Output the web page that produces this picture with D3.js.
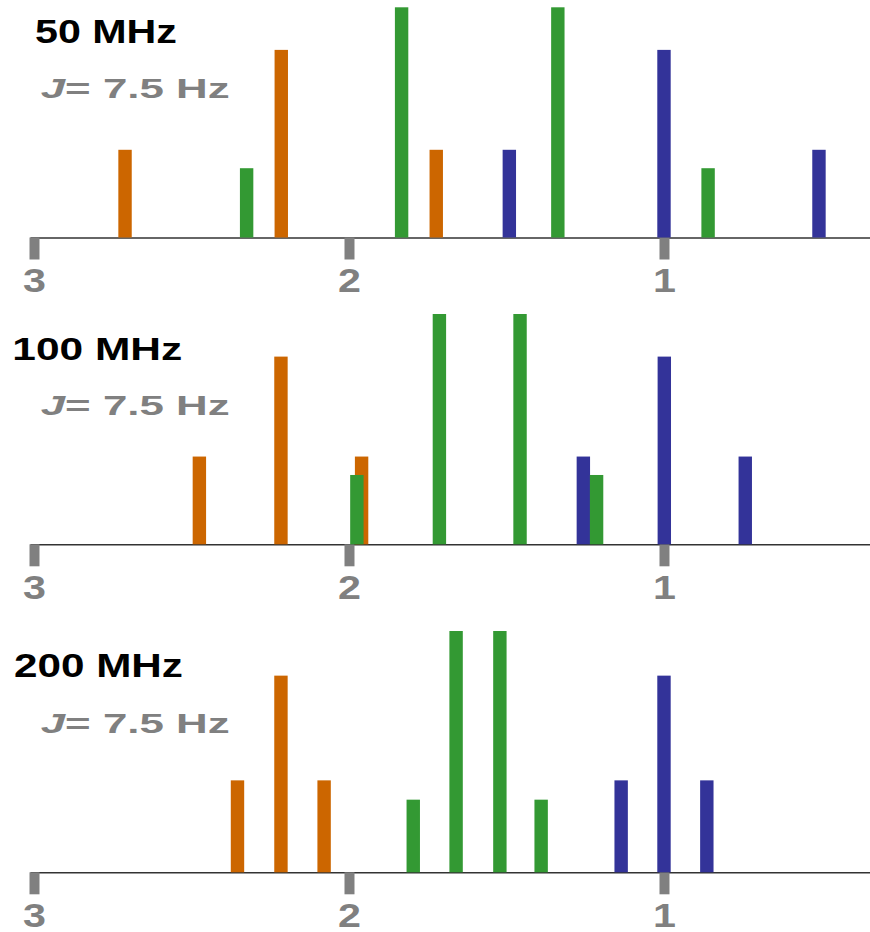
<!DOCTYPE html>
<html>
<head>
<meta charset="utf-8">
<script src="https://cdn.jsdelivr.net/npm/d3@7"></script>
<style>
  html, body { margin: 0; padding: 0; background: #ffffff; }
  svg { display: block; }
</style>
</head>
<body>
<svg id="chart" width="870" height="932"></svg>
<script>
// ---- data ----
const fields = ["50 MHz", "100 MHz", "200 MHz"];
const couplingLabel = "= 7.5 Hz";
const tickValues = [3, 2, 1];
const tickLabels = ["3", "2", "1"];

// line positions (ppm) per spectrometer field
const orangePpm = [[2.711, 2.215, 1.723], [2.475, 2.216, 1.960], [2.354, 2.216, 2.079]];
const greenPpm  = [[2.325, 1.833, 1.337, 0.860], [1.975, 1.713, 1.457, 1.214], [1.796, 1.660, 1.521, 1.390]];
const bluePpm   = [[1.491, 1.000, 0.508], [1.256, 0.999, 0.742], [1.136, 1.000, 0.864]];

// relative intensities
const tripletHeights = [0.381, 0.815, 0.381];
const quartetHeights = [0.301, 1.0, 1.0, 0.301];

// ---- layout ----
const svg = d3.select("#chart");
svg.append("rect").attr("width", 870).attr("height", 932).attr("fill", "#ffffff");

const x = d3.scaleLinear().domain([3.0127, 0.3460]).range([30, 870]);

const panels = [
  { base: 237.5, top: 7.3,  titleX: 35,   titleY: 43.3,  titleW: 142, titleSize: 32.5, jY: 98.3 },
  { base: 544.3, top: 314,  titleX: 12.3, titleY: 360,   titleW: 170, titleSize: 32,   jY: 415 },
  { base: 872.3, top: 631,  titleX: 14,   titleY: 676.7, titleW: 169, titleSize: 32.5, jY: 732.7 }
];

const colors = { orange: "#CC6600", green: "#339933", blue: "#333399" };
const barW = 13.4;
const font = "'Liberation Sans', Arial, Helvetica, sans-serif";

function fitText(sel, x0, y0, targetW) {
  const bb = sel.node().getBBox();
  const sx = targetW / bb.width;
  sel.attr("transform", `translate(${x0 - bb.x * sx},${y0}) scale(${sx},1)`);
}

panels.forEach((p, i) => {
  const g = svg.append("g");
  const y = d3.scaleLinear().domain([0, 1]).range([p.base, p.top]);

  // axis
  const axis = d3.axisBottom(x)
    .tickValues(tickValues)
    .tickFormat((d, k) => tickLabels[k])
    .tickSize(22)
    .tickPadding(9.5)
    .tickSizeOuter(0);
  const ag = g.append("g").attr("transform", `translate(0,${p.base})`).call(axis);
  ag.select(".domain").attr("stroke", "#333333").attr("stroke-width", 1.6);
  ag.selectAll(".tick line").attr("stroke", "#808080").attr("stroke-width", 10);
  ag.selectAll(".tick text")
    .attr("fill", "#808080")
    .attr("font-family", font)
    .attr("font-weight", "bold")
    .attr("font-size", 33)
    .attr("transform", "scale(1.25,1)");

  // bars
  const groups = [
    { ppm: orangePpm[i], h: tripletHeights, c: colors.orange },
    { ppm: bluePpm[i],   h: tripletHeights, c: colors.blue },
    { ppm: greenPpm[i],  h: quartetHeights, c: colors.green }
  ];
  groups.forEach(gr => {
    g.append("g").selectAll("rect")
      .data(gr.ppm.map((v, k) => ({ v, h: gr.h[k] })))
      .join("rect")
      .attr("x", d => x(d.v) - barW / 2)
      .attr("width", barW)
      .attr("y", d => y(d.h))
      .attr("height", d => y(0) - y(d.h))
      .attr("fill", gr.c);
  });

  // titles
  const t = g.append("text")
    .attr("font-family", font)
    .attr("font-weight", "bold")
    .attr("font-size", p.titleSize)
    .attr("fill", "#000000")
    .text(fields[i]);
  fitText(t, p.titleX, p.titleY, p.titleW);

  const j = g.append("text")
    .attr("font-family", font)
    .attr("font-weight", "bold")
    .attr("font-size", 28)
    .attr("fill", "#808080");
  j.append("tspan").attr("font-style", "italic").text("J");
  j.append("tspan").text(couplingLabel);
  fitText(j, 40.7, p.jY, 189);
});
</script>
</body>
</html>
